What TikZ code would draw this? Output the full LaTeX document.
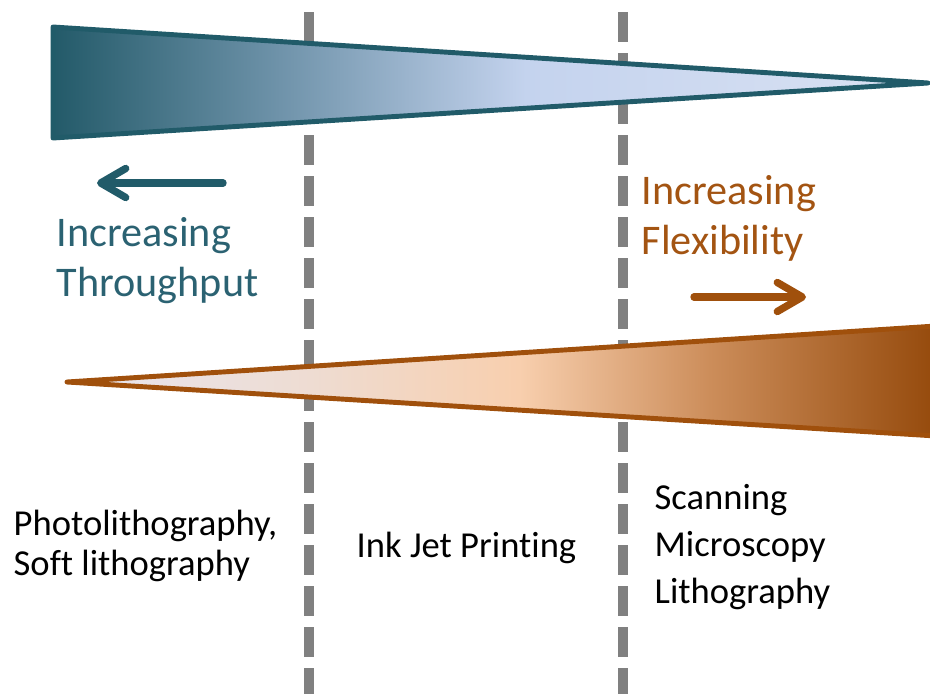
\documentclass[tikz,border=0pt]{standalone}
\usepackage{fontspec}
\setmainfont{Carlito}[Ligatures=NoCommon]
\usetikzlibrary{arrows.meta}

\definecolor{tpdark}{HTML}{235A69}
\definecolor{tpmid}{HTML}{6F93AA}
\definecolor{tplight}{HTML}{C4D3EE}
\definecolor{tptip}{HTML}{DAE2F3}
\definecolor{tpedge}{HTML}{215B69}
\definecolor{tptext}{HTML}{2B6272}
\definecolor{fxpale}{HTML}{E8E6F0}
\definecolor{fxlight}{HTML}{EEDCD2}
\definecolor{fxpeach}{HTML}{F8CFAE}
\definecolor{fxmid}{HTML}{CC8D5A}
\definecolor{fxdark}{HTML}{954A0C}
\definecolor{fxedge}{HTML}{A0500C}
\definecolor{fxtext}{HTML}{A35412}
\definecolor{divgray}{HTML}{808080}

% the path box covers 25bp..75bp of a shading
\pgfdeclarehorizontalshading{throughputfade}{100bp}{color(0bp)=(tpdark); color(25bp)=(tpdark);
  color(38bp)=(tpmid); color(52bp)=(tplight); color(75bp)=(tptip); color(100bp)=(tptip)}
\pgfdeclarehorizontalshading{flexfade}{100bp}{color(0bp)=(fxpale); color(25bp)=(fxpale);
  color(39bp)=(fxlight); color(51bp)=(fxpeach); color(62bp)=(fxmid); color(75bp)=(fxdark); color(100bp)=(fxdark)}

\tikzset{
  divider/.style={draw=divgray, line width=2.85pt, dash pattern=on 0.30cm off 0.11cm},
  wedge/.style={line width=1.4pt, line join=round},
  trend/.style={line width=2.1pt, line cap=round, -{Straight Barb[length=0.25cm, width=0.29cm, round]}},
  % base anchor sits on the last line
  bigtxt/.style={inner sep=0pt, anchor=base west, align=left, font=\fontsize{12}{14.2}\selectfont},
  smalltxt/.style={inner sep=0pt, anchor=base west, align=left, font=\fontsize{10.4}{11.1}\selectfont},
}

\begin{document}
\begin{tikzpicture}[x=0.01cm, y=-0.01cm]
  \useasboundingbox (0,0) rectangle (930,694);

  % dashed dividers between the three methods
  \foreach \x in {309,623}
    \draw[divider] (\x,12) -- (\x,694);

  % the two wedges
  \shadedraw[wedge, shading=throughputfade, draw=tpedge]
    (53,27) -- (928,83) -- (53,138) -- cycle;
  \shadedraw[wedge, shading=flexfade, draw=fxedge]
    (67,382) -- (936,326) -- (936,436) -- cycle;

  % trend arrows
  \coordinate (tpTail) at (223,183);
  \coordinate (tpTip) at (97,183);
  \coordinate (fxTail) at (694,297);
  \coordinate (fxTip) at (806,297);
  \draw[trend, tpedge] (tpTail) -- (tpTip);
  \draw[trend, fxedge] (fxTail) -- (fxTip);

  \node[bigtxt, text=tptext] (tpText) at (56,296) {Increasing\\Throughput};
  \node[bigtxt, text=fxtext] (fxText) at (641,254) {Increasing\\Flexibility};

  % method names
  \node[smalltxt] (photo) at (13,575) {Photolithography,\\Soft lithography};
  \node[smalltxt] (inkjet) at (356,557) {Ink Jet Printing};
  \node[smalltxt, font=\fontsize{10.4}{13.3}\selectfont] (scan) at (654,603) {Scanning\\Microscopy\\Lithography};
\end{tikzpicture}
\end{document}
